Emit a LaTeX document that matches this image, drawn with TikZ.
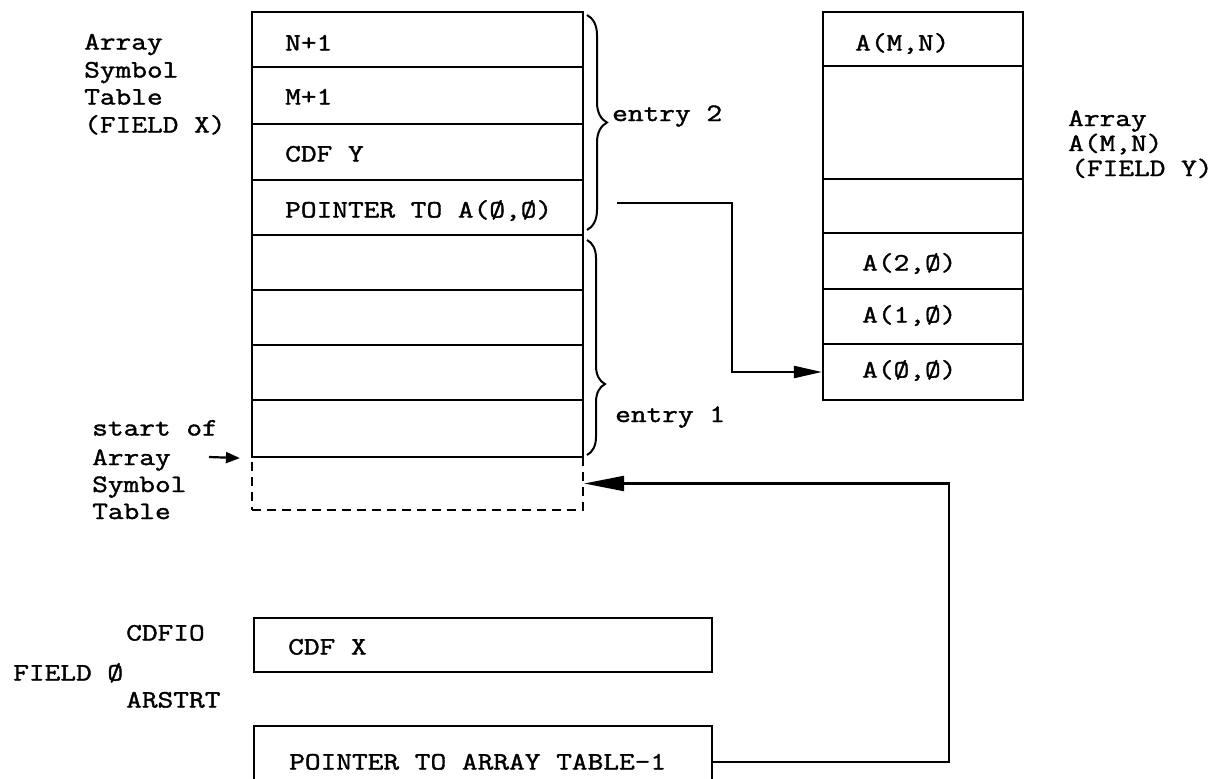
\documentclass[tikz,border=0pt]{standalone}
\usepackage{fontspec}
\setmonofont{Latin Modern Mono}[FakeStretch=1.22,FakeBold=1.5]
\usetikzlibrary{arrows.meta,decorations.pathreplacing,calc}
\newcommand\mytt{\ttfamily\fontsize{25}{28}\selectfont}
\tikzset{
  ln/.style={line width=2.2pt},
  cell/.style={draw, ln, inner sep=0pt, minimum width=331pt},
  rcell/.style={draw, ln, inner sep=0pt, minimum width=200pt},
  bcell/.style={draw, ln, inner sep=0pt, minimum width=458pt},
  txt/.style={font=\mytt, inner sep=0pt, anchor=base west},
  bracestyle/.style={decorate, line width=2pt},
  arrbig/.style={ln, -{Triangle[length=40pt,width=15pt]}},
  arrmid/.style={ln, -{Triangle[length=28pt,width=12pt]}},
  arrsmall/.style={ln, -{Triangle[length=14pt,width=11pt]}}
}
\begin{document}
\begin{tikzpicture}[x=1pt,y=-1pt]
\useasboundingbox (0,0) rectangle (1216,779);
\clip (0,0) rectangle (1216,779);
% left table
\node[cell, dash pattern=on 9pt off 6pt, minimum height=53pt] (d0) at (417.5,483.5) {};
\node[cell, minimum height=55pt] (r1) at (417.5,39.5) {};
\node[cell, minimum height=57pt] (r2) at (417.5,95.5) {};
\node[cell, minimum height=56pt] (r3) at (417.5,152) {};
\node[cell, minimum height=55pt] (r4) at (417.5,207.5) {};
\node[cell, minimum height=55pt] (r5) at (417.5,262.5) {};
\node[cell, minimum height=55pt] (r6) at (417.5,317.5) {};
\node[cell, minimum height=55pt] (r7) at (417.5,372.5) {};
\node[cell, minimum height=57pt] (r8) at (417.5,428.5) {};
\node[txt] (t1) at (285,50.5) {N+1};
\node[txt] (t2) at (285,104.5) {M+1};
\node[txt] (t3) at (285,161.5) {CDF Y};
\node[txt] (t4) at (285,217.5) {POINTER TO A(Ø,Ø)};
% left labels
\node[txt] (l1) at (84,49.5) {Array};
\node[txt] (l2) at (84,77.5) {Symbol};
\node[txt] (l3) at (84,104.5) {Table};
\node[txt] (l4) at (84,132.5) {(FIELD X)};
\node[txt] (s1) at (92,435.5) {start of};
\node[txt] (s2) at (92,465) {Array};
\node[txt] (s3) at (92,492) {Symbol};
\node[txt] (s4) at (92,519) {Table};
\coordinate (s0) at (209,457);
\draw[arrsmall] (s0) -- ([xshift=-11pt]r8.south west);
% braces
\draw[bracestyle, decoration={brace, amplitude=20pt}] (587,15) -- (587,230);
\draw[bracestyle, decoration={brace, amplitude=18pt, aspect=0.67}] (587,240) -- (587,455);
\node[txt] (e2) at (612,121) {entry 2};
\node[txt] (e1) at (615,422) {entry 1};
% right table
\node[rcell, minimum height=54pt] (a1) at (923,39) {};
\node[rcell, minimum height=113pt] (a2) at (923,122.5) {};
\node[rcell, minimum height=54pt] (a3) at (923,206) {};
\node[rcell, minimum height=56pt] (a4) at (923,261) {};
\node[rcell, minimum height=55pt] (a5) at (923,316.5) {};
\node[rcell, minimum height=56pt] (a6) at (923,372) {};
\node[txt] (u1) at (855,50.5) {A(M,N)};
\node[txt] (u4) at (862,270.5) {A(2,Ø)};
\node[txt] (u5) at (862,322.5) {A(1,Ø)};
\node[txt] (u6) at (862,377.5) {A(Ø,Ø)};
\node[txt] (v1) at (1068,126) {Array};
\node[txt] (v2) at (1068,151) {A(M,N)};
\node[txt] (v3) at (1071,176) {(FIELD Y)};
% pointer arrow
\coordinate (p1) at (617,203);
\draw[arrmid] (p1) -- ++(115,0) |- (a6.west);
% bottom boxes
\node[bcell, minimum height=54pt] (cx) at (483,645) {};
\node[bcell, minimum height=72pt] (pb) at (483,762) {};
\node[txt] (c1) at (288,654.5) {CDF X};
\node[txt] (c2) at (289,769.5) {POINTER TO ARRAY TABLE-1};
\node[txt] (b1) at (126,640.5) {CDFIO};
\node[txt] (b2) at (13,680.5) {FIELD Ø};
\node[txt] (b3) at (126,707.5) {ARSTRT};
\draw[arrbig] (pb.east) -- ++(236,0) |- (d0.east);
\end{tikzpicture}
\end{document}
